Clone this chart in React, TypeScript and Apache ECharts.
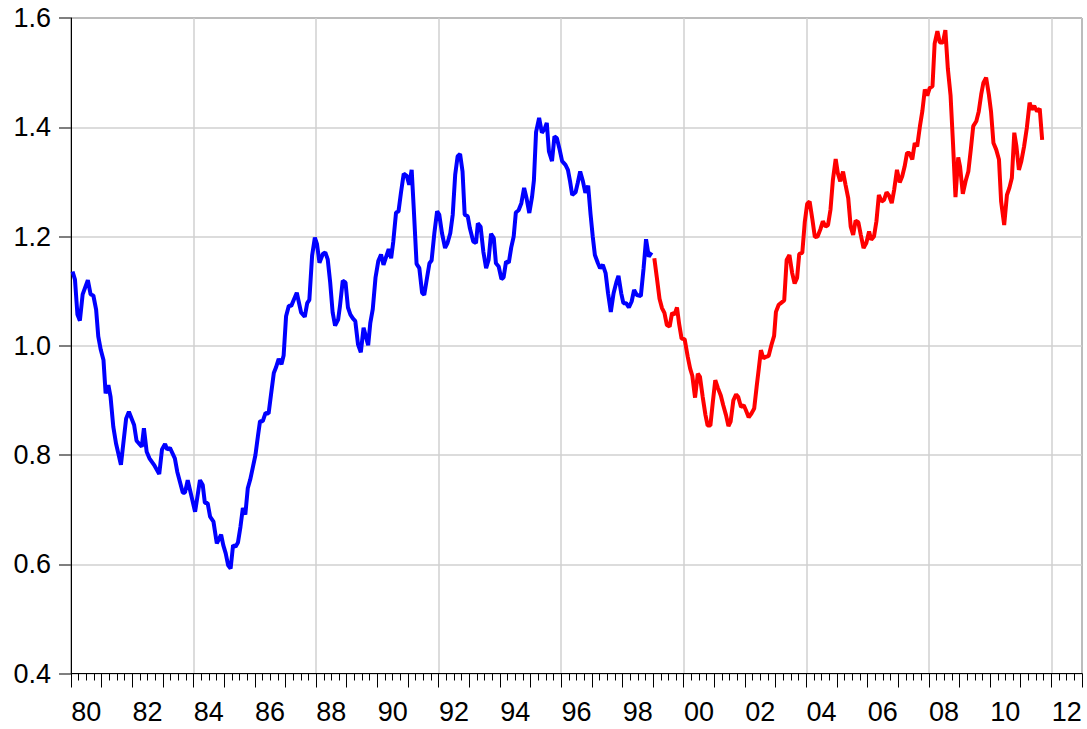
import React, { useEffect, useRef } from "react";
import * as echarts from "echarts";

// Series 1 (blue): time in years, value
const blueT = [
  1980.05, 1980.13, 1980.21, 1980.29, 1980.38, 1980.55, 1980.64, 1980.73, 1980.82, 1980.89, 1980.97,
  1981.06, 1981.13, 1981.22, 1981.29, 1981.38, 1981.47, 1981.63, 1981.8, 1981.89,
  1982.06, 1982.14, 1982.31, 1982.38, 1982.47, 1982.56, 1982.71, 1982.88, 1982.97,
  1983.07, 1983.14, 1983.23, 1983.39, 1983.47, 1983.65, 1983.72, 1983.81,
  1984.05, 1984.21, 1984.3, 1984.37, 1984.46, 1984.54, 1984.65, 1984.76, 1984.9, 1984.97,
  1985.05, 1985.13, 1985.21, 1985.29, 1985.37, 1985.45, 1985.53, 1985.61, 1985.69, 1985.77, 1985.85, 1985.93,
  1986.02, 1986.1, 1986.17, 1986.26, 1986.35, 1986.45, 1986.53, 1986.62, 1986.69, 1986.78, 1986.87, 1986.94,
  1987.02, 1987.11, 1987.19, 1987.28, 1987.37, 1987.51, 1987.63, 1987.71, 1987.78, 1987.87, 1987.96,
  1988.03, 1988.11, 1988.22, 1988.3, 1988.38, 1988.46, 1988.54, 1988.62, 1988.72, 1988.78, 1988.87, 1988.96,
  1989.04, 1989.12, 1989.2, 1989.28, 1989.37, 1989.46, 1989.55, 1989.7, 1989.77, 1989.85, 1989.94,
  1990.03, 1990.12, 1990.2, 1990.37, 1990.45, 1990.52, 1990.61, 1990.69, 1990.77, 1990.86, 1990.96,
  1991.04, 1991.12, 1991.19, 1991.28, 1991.37, 1991.46, 1991.53, 1991.62, 1991.7, 1991.77, 1991.86, 1991.95,
  1992.02, 1992.11, 1992.21, 1992.29, 1992.38, 1992.46, 1992.54, 1992.62, 1992.7, 1992.78, 1992.85, 1992.95,
  1993.02, 1993.13, 1993.22, 1993.28, 1993.37, 1993.46, 1993.55, 1993.63, 1993.71, 1993.8, 1993.87, 1993.96,
  1994.05, 1994.12, 1994.2, 1994.29, 1994.37, 1994.45, 1994.52, 1994.61, 1994.7, 1994.79, 1994.87, 1994.96,
  1995.05, 1995.11, 1995.18, 1995.28, 1995.37, 1995.46, 1995.53, 1995.6, 1995.7, 1995.78, 1995.86, 1995.95,
  1996.03, 1996.14, 1996.22, 1996.29, 1996.36, 1996.47, 1996.54, 1996.62, 1996.71, 1996.79, 1996.88, 1996.96,
  1997.03, 1997.1, 1997.2, 1997.27, 1997.36, 1997.45, 1997.53, 1997.62, 1997.71, 1997.8, 1997.87, 1997.96,
  1998.03, 1998.12, 1998.21, 1998.3, 1998.38, 1998.47, 1998.6, 1998.69, 1998.77, 1998.86, 1998.95,
];
const blueV = [
  1.136, 1.121, 1.057, 1.046, 1.094, 1.12, 1.094, 1.092, 1.066, 1.017, 0.993,
  0.974, 0.913, 0.928, 0.907, 0.852, 0.821, 0.782, 0.867, 0.879,
  0.855, 0.826, 0.815, 0.849, 0.806, 0.794, 0.782, 0.765, 0.81,
  0.82, 0.81, 0.813, 0.794, 0.769, 0.731, 0.731, 0.754,
  0.696, 0.754, 0.745, 0.712, 0.712, 0.687, 0.678, 0.638, 0.654, 0.635,
  0.62, 0.598, 0.592, 0.635, 0.632, 0.64, 0.668, 0.703, 0.691, 0.739, 0.755, 0.776,
  0.8, 0.834, 0.862, 0.862, 0.877, 0.876, 0.911, 0.95, 0.96, 0.976, 0.966, 0.982,
  1.054, 1.073, 1.073, 1.085, 1.097, 1.061, 1.053, 1.078, 1.084, 1.165, 1.198,
  1.186, 1.152, 1.168, 1.171, 1.158, 1.116, 1.061, 1.037, 1.048, 1.073, 1.119, 1.116,
  1.07, 1.057, 1.05, 1.045, 1.002, 0.988, 1.033, 1.001, 1.042, 1.067, 1.125,
  1.155, 1.167, 1.148, 1.177, 1.16, 1.191, 1.244, 1.246, 1.28, 1.315, 1.311,
  1.295, 1.322, 1.249, 1.15, 1.142, 1.097, 1.093, 1.124, 1.151, 1.156, 1.206, 1.246,
  1.24, 1.206, 1.179, 1.188, 1.206, 1.24, 1.313, 1.347, 1.351, 1.319, 1.24, 1.237,
  1.215, 1.191, 1.188, 1.224, 1.218, 1.172, 1.142, 1.157, 1.205, 1.197, 1.151, 1.145,
  1.122, 1.125, 1.154, 1.152, 1.18, 1.2, 1.244, 1.248, 1.261, 1.289, 1.27, 1.243,
  1.273, 1.303, 1.391, 1.417, 1.39, 1.397, 1.408, 1.356, 1.338, 1.383, 1.38, 1.359,
  1.338, 1.331, 1.322, 1.301, 1.276, 1.281, 1.298, 1.319, 1.301, 1.28, 1.293, 1.24,
  1.2, 1.166, 1.151, 1.142, 1.148, 1.133, 1.096, 1.062, 1.096, 1.116, 1.128, 1.096,
  1.078, 1.078, 1.07, 1.081, 1.102, 1.093, 1.091, 1.142, 1.195, 1.163, 1.171,
];

// Series 2 (red)
const redT = [
  1999.04, 1999.12, 1999.21, 1999.29, 1999.37, 1999.45, 1999.54, 1999.62, 1999.7, 1999.78, 1999.85, 1999.93,
  2000.03, 2000.13, 2000.21, 2000.28, 2000.37, 2000.46, 2000.53, 2000.62, 2000.71, 2000.78, 2000.87, 2000.95,
  2001.03, 2001.12, 2001.21, 2001.29, 2001.38, 2001.46, 2001.53, 2001.62, 2001.71, 2001.78, 2001.87, 2001.96,
  2002.03, 2002.12, 2002.21, 2002.3, 2002.38, 2002.45, 2002.52, 2002.6, 2002.69, 2002.77, 2002.86, 2002.95,
  2003.01, 2003.1, 2003.19, 2003.28, 2003.36, 2003.45, 2003.54, 2003.62, 2003.7, 2003.77, 2003.87, 2003.95,
  2004.03, 2004.11, 2004.2, 2004.28, 2004.37, 2004.46, 2004.54, 2004.63, 2004.71, 2004.79, 2004.87, 2004.96,
  2005.03, 2005.11, 2005.2, 2005.28, 2005.37, 2005.45, 2005.53, 2005.61, 2005.7, 2005.78, 2005.87, 2005.96,
  2006.05, 2006.12, 2006.21, 2006.29, 2006.37, 2006.46, 2006.54, 2006.62, 2006.7, 2006.79, 2006.87, 2006.96,
  2007.05, 2007.13, 2007.21, 2007.29, 2007.37, 2007.46, 2007.54, 2007.62, 2007.71, 2007.79, 2007.87, 2007.95,
  2008.03, 2008.12, 2008.19, 2008.28, 2008.36, 2008.46, 2008.54, 2008.62, 2008.71, 2008.79, 2008.87, 2008.96,
  2009.02, 2009.11, 2009.2, 2009.29, 2009.37, 2009.45, 2009.55, 2009.63, 2009.71, 2009.78, 2009.87, 2009.96,
  2010.03, 2010.11, 2010.2, 2010.29, 2010.36, 2010.46, 2010.55, 2010.63, 2010.71, 2010.79, 2010.86, 2010.94,
  2011.02, 2011.11, 2011.2, 2011.29, 2011.36, 2011.44, 2011.53, 2011.62, 2011.7,
];
const redV = [
  1.16, 1.126, 1.086, 1.069, 1.06, 1.038, 1.035, 1.06, 1.057, 1.07, 1.04, 1.013,
  1.012, 0.98, 0.958, 0.945, 0.905, 0.949, 0.943, 0.906, 0.873, 0.854, 0.854, 0.897,
  0.937, 0.922, 0.909, 0.891, 0.873, 0.853, 0.861, 0.9, 0.911, 0.906, 0.888, 0.891,
  0.882, 0.869, 0.876, 0.885, 0.925, 0.958, 0.992, 0.977, 0.98, 0.981, 1.001, 1.018,
  1.062, 1.075, 1.079, 1.083, 1.157, 1.166, 1.133, 1.114, 1.124, 1.168, 1.17, 1.226,
  1.26, 1.264, 1.231, 1.199, 1.2, 1.213, 1.228, 1.218, 1.221, 1.249, 1.304, 1.342,
  1.316, 1.301, 1.319, 1.295, 1.27, 1.218, 1.203, 1.229, 1.226, 1.203, 1.179, 1.188,
  1.209, 1.194, 1.2, 1.228, 1.276, 1.264, 1.267, 1.281, 1.275, 1.261, 1.286, 1.322,
  1.299, 1.31, 1.328, 1.353, 1.353, 1.341, 1.371, 1.365, 1.402, 1.43, 1.469, 1.458,
  1.472, 1.475, 1.553, 1.576, 1.555, 1.555, 1.578, 1.508, 1.458, 1.37, 1.272, 1.345,
  1.328, 1.278, 1.301, 1.319, 1.359, 1.402, 1.411, 1.429, 1.46, 1.481, 1.491, 1.46,
  1.429, 1.371, 1.359, 1.341, 1.264, 1.221, 1.276, 1.289, 1.307, 1.39, 1.365, 1.322,
  1.338, 1.365, 1.399, 1.445, 1.432, 1.439, 1.429, 1.434, 1.377,
];

// Axis ticks / labels
const xStartYear = 1980;
const xEndYear = 2013;
const xTickLabels = ["80", "82", "84", "86", "88", "90", "92", "94", "96", "98", "00", "02", "04", "06", "08", "10", "12"];
const yTickLabels = ["0.4", "0.6", "0.8", "1.0", "1.2", "1.4", "1.6"];

const FONT = "'Liberation Sans', Arial, Helvetica, sans-serif";

export default function App() {
  const ref = useRef<HTMLDivElement>(null);

  useEffect(() => {
    if (!ref.current) return;
    const chart = echarts.init(ref.current, undefined, { renderer: "svg" });
    const bluePairs = blueT.map((t, i) => [t, blueV[i]]);
    const redPairs = redT.map((t, i) => [t, redV[i]]);
    const yMin = parseFloat(yTickLabels[0]);
    const yMax = parseFloat(yTickLabels[yTickLabels.length - 1]);

    chart.setOption({
      animation: false,
      backgroundColor: "#ffffff",
      grid: {
        left: 71,
        right: 5,
        top: 18,
        bottom: 55.5,
        show: true,
        borderColor: "#000000",
        borderWidth: 1,
        backgroundColor: "transparent",
        containLabel: false,
      },
      xAxis: [
        {
          type: "value",
          min: xStartYear,
          max: xEndYear,
          interval: 1,
          position: "bottom",
          axisLine: { show: true, lineStyle: { color: "#000", width: 1 } },
          axisTick: { show: true, length: 14, lineStyle: { color: "#000", width: 1 } },
          minorTick: { show: true, splitNumber: 4, length: 7, lineStyle: { color: "#000", width: 1 } },
          splitLine: { show: false },
          minorSplitLine: { show: false },
          axisLabel: {
            show: true,
            margin: 25,
            fontSize: 27,
            fontFamily: FONT,
            color: "#000",
            padding: [0, 0, 0, 30.6],
            showMinLabel: true,
            showMaxLabel: true,
            formatter: (v: number) => {
              const d = Math.round(v) - xStartYear;
              if (d % 2 !== 0) return "";
              const lbl = xTickLabels[d / 2];
              return lbl === undefined ? "" : lbl;
            },
          },
        },
        {
          type: "value",
          min: xStartYear,
          max: xEndYear,
          interval: 4,
          axisLine: { show: false },
          axisTick: { show: false },
          axisLabel: { show: false },
          splitLine: { show: true, lineStyle: { color: "#d0d0d0", width: 1.5 } },
        },
      ],
      yAxis: {
        type: "value",
        min: yMin,
        max: yMax,
        interval: 0.2,
        axisLine: { show: true, lineStyle: { color: "#000", width: 1 } },
        axisTick: { show: true, length: 12, lineStyle: { color: "#555", width: 1.5 } },
        splitLine: { show: true, lineStyle: { color: "#d0d0d0", width: 1.5 } },
        axisLabel: {
          margin: 20,
          fontSize: 27,
          fontFamily: FONT,
          color: "#000",
          formatter: (v: number) => {
            const idx = Math.round((v - yMin) / 0.2);
            return yTickLabels[idx] ?? v.toFixed(1);
          },
        },
      },
      series: [
        {
          type: "line",
          xAxisIndex: 0,
          data: bluePairs,
          symbol: "none",
          lineStyle: { color: "#0000ff", width: 4 },
          itemStyle: { color: "#0000ff" },
          z: 3,
        },
        {
          type: "line",
          xAxisIndex: 0,
          data: redPairs,
          symbol: "none",
          lineStyle: { color: "#ff0000", width: 4 },
          itemStyle: { color: "#ff0000" },
          z: 3,
        },
      ],
    });
    return () => chart.dispose();
  }, []);

  return (
    <div
      ref={ref}
      style={{ position: "fixed", left: 0, top: 0, width: 1087, height: 729, background: "#fff" }}
    />
  );
}
